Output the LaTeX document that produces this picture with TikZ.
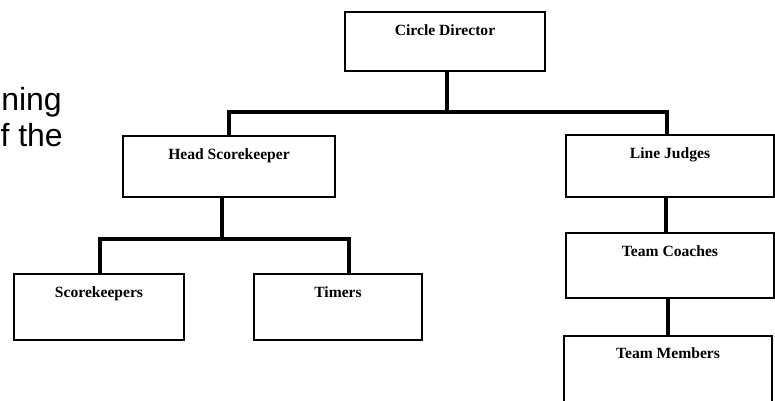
\documentclass[tikz,border=0pt]{standalone}
\usepackage{fontspec}
\setmainfont{Liberation Serif}
\newfontfamily\slidefont{Liberation Sans}
\usetikzlibrary{positioning}

\tikzset{
  box/.style 2 args={draw, line width=2pt, minimum width=#1, minimum height=#2, inner sep=0pt},
  lbl/.style={font=\bfseries\fontsize{15.6}{18}\selectfont, inner sep=0pt, anchor=base},
  link/.style={line width=4pt},
  slide/.style={font=\slidefont\fontsize{32}{37}\selectfont, inner sep=0pt, anchor=base east}
}

\begin{document}
\begin{tikzpicture}[x=1pt, y=-1pt]
\useasboundingbox (0,0) rectangle (775,400);

% left-over slide text
\node[slide] (txtA) at (62,110) {ning};
\node[slide] (txtB) at (63,146) {f the};

% boxes
\node[box={200pt}{59pt}] (cd) at (445,41.5) {};
\node[box={212pt}{61pt}] (hs) at (229,166.5) {};
\node[box={208pt}{62pt}] (lj) at (670,166) {};
\node[box={208pt}{65pt}] (tc) at (670,265.5) {};
\node[box={208pt}{68pt}] (tm) at (668,370) {};
\node[box={170pt}{66pt}] (sk) at (99,307) {};
\node[box={168pt}{66pt}] (ti) at (338,307) {};

% labels
\node[lbl] (cdt) at ([yshift=-24pt]cd.north) {Circle Director};
\node[lbl] (hst) at ([yshift=-24pt]hs.north) {Head Scorekeeper};
\node[lbl] (ljt) at ([yshift=-24pt]lj.north) {Line Judges};
\node[lbl] (tct) at ([yshift=-24pt]tc.north) {Team Coaches};
\node[lbl] (tmt) at ([yshift=-23pt]tm.north) {Team Members};
\node[lbl] (skt) at ([yshift=-24pt]sk.north) {Scorekeepers};
\node[lbl] (tit) at ([yshift=-24pt]ti.north) {Timers};

% connectors
\coordinate (topbus) at (447,112);
\coordinate (midbus) at (222,239);
\draw[link] ([xshift=2pt]cd.south) -- (topbus);
\draw[link] (hs.north) |- (topbus) -| ([xshift=-3pt]lj.north);
\draw[link] ([xshift=-7pt]hs.south) -- (midbus);
\draw[link] ([xshift=1pt]sk.north) |- (midbus) -| ([xshift=11pt]ti.north);
\draw[link] ([xshift=-4pt]lj.south) -- ([xshift=-4pt]tc.north);
\draw[link] (tm.north |- tc.south) -- (tm.north);
\end{tikzpicture}
\end{document}
